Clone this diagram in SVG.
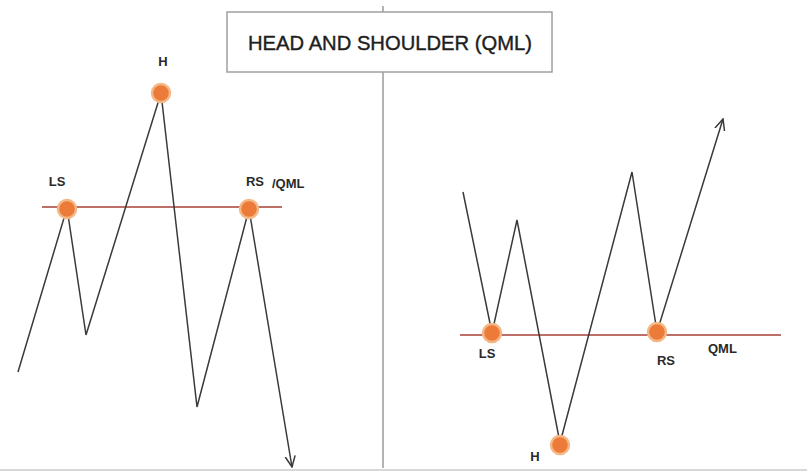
<svg xmlns="http://www.w3.org/2000/svg" width="807" height="475" viewBox="0 0 807 475">
<defs>
<style>
.price{fill:none;stroke:#3a3a3a;stroke-width:1.5;stroke-linejoin:miter}
.qml{stroke:#bd7068;stroke-width:2}
.dot{fill:#ec7a38;stroke:#f4b887;stroke-width:2.5}
.lbl{font-family:"Liberation Sans",Arial,sans-serif;font-size:13px;fill:#2a2a2a;font-weight:bold}
.title{font-family:"Liberation Sans",Arial,sans-serif;font-size:21px;fill:#1e1e1e;stroke:#1e1e1e;stroke-width:0.4}
</style>
<marker id="arr" viewBox="0 0 12 12" refX="11" refY="6" markerWidth="12" markerHeight="12" markerUnits="userSpaceOnUse" orient="auto">
<path d="M0,1 L11,6 L0,11" fill="none" stroke="#3a3a3a" stroke-width="1.5"/>
</marker>
</defs>
<rect width="807" height="475" fill="#fff"/>
<line x1="0" y1="470" x2="807" y2="470" stroke="#d8d8d8" stroke-width="2"/>
<g id="divider"><line x1="383" y1="6" x2="383" y2="468" stroke="#9a9a9a" stroke-width="1.5"/></g>
<g id="title">
<rect x="227" y="12" width="325" height="60" fill="#fff" stroke="#a0a0a0" stroke-width="1.5"/>
<text class="title" x="390" y="50" text-anchor="middle" textLength="284" lengthAdjust="spacingAndGlyphs">HEAD AND SHOULDER (QML)</text>
</g>
<g id="connectors">
<line class="qml" x1="42" y1="207" x2="282" y2="207"/>
<line class="qml" x1="460" y1="335" x2="781" y2="335"/>
<polyline class="price" points="18,372 67,208 86,335 161,93 197,407 249,209 292,467" marker-end="url(#arr)"/>
<polyline class="price" points="463,192 492,333 517,220 560,443 632,172 657,332 723,119" marker-end="url(#arr)"/>
</g>
<g id="left-LS"><circle class="dot" cx="67" cy="209" r="9"/><text class="lbl" x="57" y="186" text-anchor="middle">LS</text></g>
<g id="left-H"><circle class="dot" cx="161" cy="93" r="9"/><text class="lbl" x="163" y="66" text-anchor="middle">H</text></g>
<g id="left-RS"><circle class="dot" cx="249" cy="209" r="9"/><text class="lbl" x="255" y="186" text-anchor="middle">RS</text><text class="lbl" x="272" y="188" font-size="12">/QML</text></g>
<g id="right-LS"><circle class="dot" cx="492" cy="333" r="9"/><text class="lbl" x="487" y="358" text-anchor="middle">LS</text></g>
<g id="right-H"><circle class="dot" cx="560" cy="445" r="9"/><text class="lbl" x="535" y="461" text-anchor="middle">H</text></g>
<g id="right-RS"><circle class="dot" cx="657" cy="332" r="9"/><text class="lbl" x="666" y="365" text-anchor="middle">RS</text></g>
<g id="right-QML"><text class="lbl" x="708" y="353" font-size="12">QML</text></g>
</svg>
